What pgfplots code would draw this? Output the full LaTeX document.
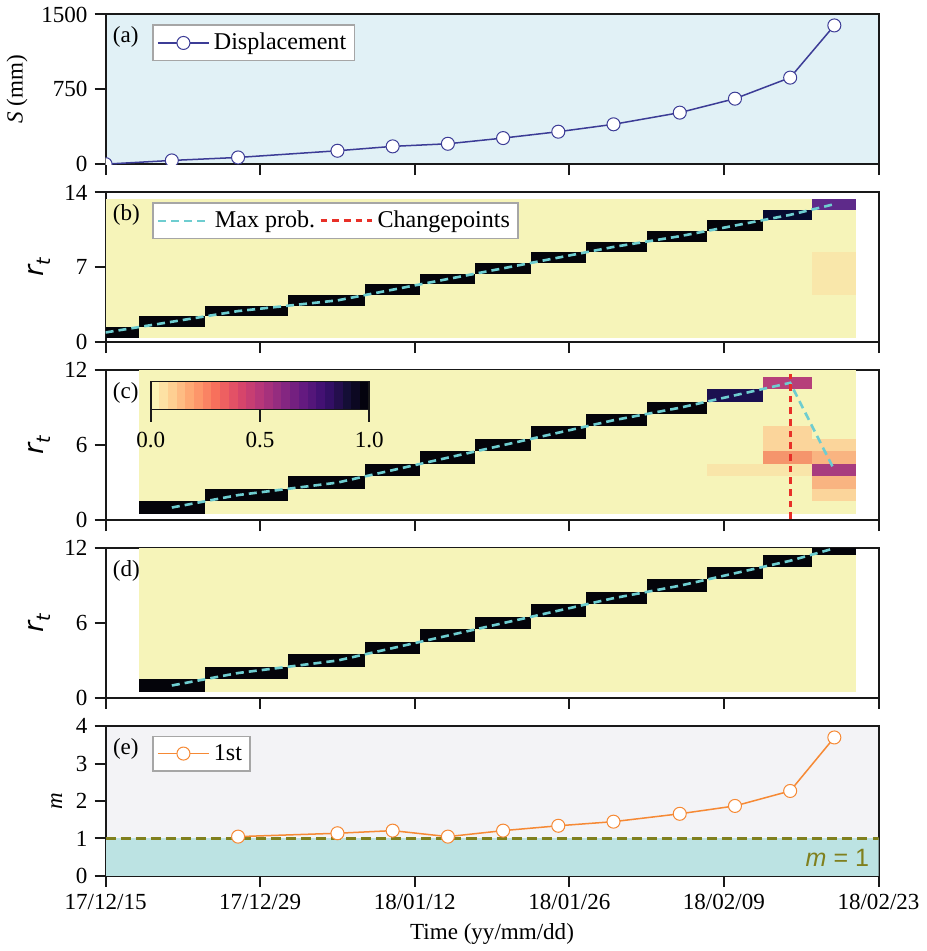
\documentclass[border=0pt]{standalone}
\usepackage{fontspec}
\setmainfont{Liberation Serif}
\setsansfont{Liberation Sans}
\newfontfamily\djv{DejaVu Sans}
\usepackage{pgfplots}
\pgfplotsset{compat=1.18}
\usetikzlibrary{calc}

\definecolor{bgA}{RGB}{225,241,246}
\definecolor{disp}{RGB}{60,60,150}
\definecolor{yel}{RGB}{246,244,185}
\definecolor{blk}{RGB}{4,4,10}
\definecolor{navyb}{RGB}{6,10,48}
\definecolor{purpb}{RGB}{94,42,138}
\definecolor{paleb}{RGB}{249,231,170}
\definecolor{navyc}{RGB}{27,16,80}
\definecolor{magc}{RGB}{182,64,122}
\definecolor{magd}{RGB}{168,60,127}
\definecolor{peach}{RGB}{251,213,155}
\definecolor{salmon}{RGB}{245,149,108}
\definecolor{lorange}{RGB}{249,180,129}
\definecolor{pale}{RGB}{249,229,169}
\definecolor{cyanl}{RGB}{110,205,208}
\definecolor{redl}{RGB}{232,48,40}
\definecolor{bgE}{RGB}{243,243,246}
\definecolor{tealb}{RGB}{188,227,227}
\definecolor{olivel}{RGB}{128,128,30}
\definecolor{orng}{RGB}{246,137,52}
\definecolor{axc}{RGB}{25,25,25}

\newcommand{\fs}{\fontsize{11.5}{13}\selectfont}
\newcommand{\fl}{\fontsize{12}{14}\selectfont}
\newcommand{\rt}{{\djv\fontsize{13.5}{15}\selectfont\itshape r\raisebox{-0.25em}{\fontsize{9.5}{10}\selectfont t}}}

\tikzset{plab/.style={anchor=base west, inner sep=0pt, font=\fs, xshift=3.5pt, yshift=-14pt}}

\pgfplotsset{
  panel/.style={
    width=385.5pt, height=74.65pt, scale only axis,
    xmin=0, xmax=70, xtick={0,14,28,42,56,70}, xticklabels={},
    tick pos=left, tick align=outside, major tick length=5.5pt,
    axis line style={line width=1pt, axc},
    every tick/.style={line width=1pt, axc},
    tick label style={font=\fs},
    label style={font=\fs},
    /pgf/number format/assume math mode=true,
    /pgf/number format/1000 sep={},
    clip marker paths=true,
    legend style={font=\fl, draw=gray!70, line width=0.6pt, anchor=north west,
      inner sep=2pt, row sep=0pt},
    legend cell align=left,
    legend image code/.code={\draw[mark repeat=2,mark phase=2,#1] plot coordinates {(0cm,0cm) (0.45cm,0cm) (0.9cm,0cm)};},
  },
}

\begin{document}
\begin{tikzpicture}
% ---------------- (a)
\begin{axis}[panel, name=a, at={(0,0)},
  ymin=0, ymax=1500, ytick={0,750,1500},
  ylabel={\textit{S} (mm)},
  axis background/.style={fill=bgA},
  legend style={at={(0.0606,0.933)}}]
\addplot[disp, line width=0.75pt, mark=*, mark size=3.25pt,
  mark options={fill=white, draw=disp, line width=0.5pt}]
  coordinates {(0,0) (6,37) (12,67) (21,134) (26,178) (31,204) (36,261)
               (41,325) (46,399) (52,516) (57,656) (62,867) (66,1390)};
\legend{Displacement}
\node[plab] at (rel axis cs:0,1) {(a)};
\end{axis}

% ---------------- (b)
\begin{axis}[panel, name=b, at={(0,-88.75pt)},
  ymin=0, ymax=14, ytick={0,7,14},
  ylabel={\rt},
  legend columns=2,
  legend style={at={(0.0606,0.933)}, /tikz/every even column/.append style={column sep=0pt}}]
\addplot[fill=yel, draw=none, forget plot] coordinates {(0,0.4) (68,0.4) (68,13.4) (0,13.4)} --cycle;
\addplot[fill=blk, draw=none, forget plot] coordinates {(0,0.4) (3,0.4) (3,1.4) (0,1.4)} --cycle;
\addplot[fill=blk, draw=none, forget plot] coordinates {(3,1.4) (9,1.4) (9,2.4) (3,2.4)} --cycle;
\addplot[fill=blk, draw=none, forget plot] coordinates {(9,2.4) (16.5,2.4) (16.5,3.4) (9,3.4)} --cycle;
\addplot[fill=blk, draw=none, forget plot] coordinates {(16.5,3.4) (23.5,3.4) (23.5,4.4) (16.5,4.4)} --cycle;
\addplot[fill=blk, draw=none, forget plot] coordinates {(23.5,4.4) (28.5,4.4) (28.5,5.4) (23.5,5.4)} --cycle;
\addplot[fill=blk, draw=none, forget plot] coordinates {(28.5,5.4) (33.5,5.4) (33.5,6.4) (28.5,6.4)} --cycle;
\addplot[fill=blk, draw=none, forget plot] coordinates {(33.5,6.4) (38.5,6.4) (38.5,7.4) (33.5,7.4)} --cycle;
\addplot[fill=blk, draw=none, forget plot] coordinates {(38.5,7.4) (43.5,7.4) (43.5,8.4) (38.5,8.4)} --cycle;
\addplot[fill=blk, draw=none, forget plot] coordinates {(43.5,8.4) (49,8.4) (49,9.4) (43.5,9.4)} --cycle;
\addplot[fill=blk, draw=none, forget plot] coordinates {(49,9.4) (54.5,9.4) (54.5,10.4) (49,10.4)} --cycle;
\addplot[fill=blk, draw=none, forget plot] coordinates {(54.5,10.4) (59.5,10.4) (59.5,11.4) (54.5,11.4)} --cycle;
\addplot[fill=navyb, draw=none, forget plot] coordinates {(59.5,11.4) (64,11.4) (64,12.4) (59.5,12.4)} --cycle;
\addplot[fill=purpb, draw=none, forget plot] coordinates {(64,12.4) (68,12.4) (68,13.4) (64,13.4)} --cycle;
\addplot[fill=paleb, draw=none, forget plot] coordinates {(64,4.4) (68,4.4) (68,8.4) (64,8.4)} --cycle;
\addplot[cyanl, line width=1.3pt, dash pattern=on 4pt off 2.5pt]
  coordinates {(0,0.9) (6,1.9) (12,2.9) (21,3.9) (26,4.9) (31,5.9) (36,6.9)
               (41,7.9) (46,8.9) (52,9.9) (57,10.9) (62,11.9) (66,12.9)};
\addlegendimage{redl, line width=1.5pt, dash pattern=on 3.3pt off 2.5pt}
\legend{Max prob.,Changepoints}
\node[plab] at (rel axis cs:0,1) {(b)};
\end{axis}

% ---------------- (c)
\begin{axis}[panel, name=c, at={(0,-177.5pt)},
  ymin=0, ymax=12, ytick={0,6,12},
  ylabel={\rt},
  colormap={magmar}{rgb255=(252,253,191) rgb255=(254,207,146) rgb255=(254,159,109)
    rgb255=(247,112,92) rgb255=(222,73,104) rgb255=(183,55,121) rgb255=(140,41,129)
    rgb255=(100,26,128) rgb255=(59,15,112) rgb255=(20,14,54) rgb255=(0,0,4)},
  point meta min=0, point meta max=1,
  colorbar horizontal, colorbar sampled,
  colorbar style={samples=26,
    at={($(parent axis.north west)+(22.5pt,3pt)$)}, anchor=north west,
    scale only axis, width=109pt, height=14pt,
    xtick={0,0.5,1}, xtick pos=bottom, xticklabel pos=lower,
    tick align=outside, major tick length=6pt,
    axis line style={line width=0.9pt, axc},
    every tick/.style={line width=0.9pt, axc},
    xticklabel style={font=\fs, yshift=-2pt, /pgf/number format/.cd, fixed, fixed zerofill, precision=1, assume math mode=true},
  }]
\addplot[fill=yel, draw=none, forget plot] coordinates {(3,0.5) (68,0.5) (68,12.5) (3,12.5)} --cycle;
\addplot[fill=blk, draw=none, forget plot] coordinates {(3,0.5) (9,0.5) (9,1.5) (3,1.5)} --cycle;
\addplot[fill=blk, draw=none, forget plot] coordinates {(9,1.5) (16.5,1.5) (16.5,2.5) (9,2.5)} --cycle;
\addplot[fill=blk, draw=none, forget plot] coordinates {(16.5,2.5) (23.5,2.5) (23.5,3.5) (16.5,3.5)} --cycle;
\addplot[fill=blk, draw=none, forget plot] coordinates {(23.5,3.5) (28.5,3.5) (28.5,4.5) (23.5,4.5)} --cycle;
\addplot[fill=blk, draw=none, forget plot] coordinates {(28.5,4.5) (33.5,4.5) (33.5,5.5) (28.5,5.5)} --cycle;
\addplot[fill=blk, draw=none, forget plot] coordinates {(33.5,5.5) (38.5,5.5) (38.5,6.5) (33.5,6.5)} --cycle;
\addplot[fill=blk, draw=none, forget plot] coordinates {(38.5,6.5) (43.5,6.5) (43.5,7.5) (38.5,7.5)} --cycle;
\addplot[fill=blk, draw=none, forget plot] coordinates {(43.5,7.5) (49,7.5) (49,8.5) (43.5,8.5)} --cycle;
\addplot[fill=blk, draw=none, forget plot] coordinates {(49,8.5) (54.5,8.5) (54.5,9.5) (49,9.5)} --cycle;
\addplot[fill=navyc, draw=none, forget plot] coordinates {(54.5,9.5) (59.5,9.5) (59.5,10.5) (54.5,10.5)} --cycle;
\addplot[fill=magc, draw=none, forget plot] coordinates {(59.5,10.5) (64,10.5) (64,11.5) (59.5,11.5)} --cycle;
\addplot[fill=pale, draw=none, forget plot] coordinates {(54.5,3.5) (64,3.5) (64,4.5) (54.5,4.5)} --cycle;
\addplot[fill=salmon, draw=none, forget plot] coordinates {(59.5,4.5) (64,4.5) (64,5.5) (59.5,5.5)} --cycle;
\addplot[fill=peach, draw=none, forget plot] coordinates {(59.5,5.5) (64,5.5) (64,7.5) (59.5,7.5)} --cycle;
\addplot[fill=peach, draw=none, forget plot] coordinates {(64,1.5) (68,1.5) (68,2.5) (64,2.5)} --cycle;
\addplot[fill=lorange, draw=none, forget plot] coordinates {(64,2.5) (68,2.5) (68,3.5) (64,3.5)} --cycle;
\addplot[fill=magd, draw=none, forget plot] coordinates {(64,3.5) (68,3.5) (68,4.5) (64,4.5)} --cycle;
\addplot[fill=lorange, draw=none, forget plot] coordinates {(64,4.5) (68,4.5) (68,5.5) (64,5.5)} --cycle;
\addplot[fill=peach, draw=none, forget plot] coordinates {(64,5.5) (68,5.5) (68,6.5) (64,6.5)} --cycle;
\addplot[cyanl, line width=1.3pt, dash pattern=on 4pt off 2.5pt]
  coordinates {(6,1) (12,2) (21,3) (26,4) (31,5) (36,6) (41,7)
               (46,8) (52,9) (57,10) (62,11) (66,4)};
\addplot[redl, line width=1.5pt, dash pattern=on 3.3pt off 2.5pt]
  coordinates {(62,0.1) (62,11.7)};
\node[plab] at (rel axis cs:0,1) {(c)};
\end{axis}

% ---------------- (d)
\begin{axis}[panel, name=d, at={(0,-266.25pt)},
  ymin=0, ymax=12, ytick={0,6,12},
  ylabel={\rt}]
\addplot[fill=yel, draw=none, forget plot] coordinates {(3,0.5) (68,0.5) (68,12.5) (3,12.5)} --cycle;
\addplot[fill=blk, draw=none, forget plot] coordinates {(3,0.5) (9,0.5) (9,1.5) (3,1.5)} --cycle;
\addplot[fill=blk, draw=none, forget plot] coordinates {(9,1.5) (16.5,1.5) (16.5,2.5) (9,2.5)} --cycle;
\addplot[fill=blk, draw=none, forget plot] coordinates {(16.5,2.5) (23.5,2.5) (23.5,3.5) (16.5,3.5)} --cycle;
\addplot[fill=blk, draw=none, forget plot] coordinates {(23.5,3.5) (28.5,3.5) (28.5,4.5) (23.5,4.5)} --cycle;
\addplot[fill=blk, draw=none, forget plot] coordinates {(28.5,4.5) (33.5,4.5) (33.5,5.5) (28.5,5.5)} --cycle;
\addplot[fill=blk, draw=none, forget plot] coordinates {(33.5,5.5) (38.5,5.5) (38.5,6.5) (33.5,6.5)} --cycle;
\addplot[fill=blk, draw=none, forget plot] coordinates {(38.5,6.5) (43.5,6.5) (43.5,7.5) (38.5,7.5)} --cycle;
\addplot[fill=blk, draw=none, forget plot] coordinates {(43.5,7.5) (49,7.5) (49,8.5) (43.5,8.5)} --cycle;
\addplot[fill=blk, draw=none, forget plot] coordinates {(49,8.5) (54.5,8.5) (54.5,9.5) (49,9.5)} --cycle;
\addplot[fill=blk, draw=none, forget plot] coordinates {(54.5,9.5) (59.5,9.5) (59.5,10.5) (54.5,10.5)} --cycle;
\addplot[fill=blk, draw=none, forget plot] coordinates {(59.5,10.5) (64,10.5) (64,11.5) (59.5,11.5)} --cycle;
\addplot[fill=blk, draw=none, forget plot] coordinates {(64,11.5) (68,11.5) (68,12.5) (64,12.5)} --cycle;
\addplot[cyanl, line width=1.3pt, dash pattern=on 4pt off 2.5pt]
  coordinates {(6,1) (12,2) (21,3) (26,4) (31,5) (36,6) (41,7)
               (46,8) (52,9) (57,10) (62,11) (66,12)};
\node[plab] at (rel axis cs:0,1) {(d)};
\end{axis}

% ---------------- (e)
\begin{axis}[panel, name=e, at={(0,-355pt)},
  ymin=0, ymax=4, ytick={0,1,2,3,4},
  ylabel={\textit{m}},
  xticklabels={17/12/15,17/12/29,18/01/12,18/01/26,18/02/09,18/02/23},
  xlabel={Time (yy/mm/dd)},
  axis background/.style={fill=bgE},
  legend style={at={(0.0606,0.938)}}]
\addplot[fill=tealb, draw=none, forget plot] coordinates {(0,0) (70,0) (70,1) (0,1)} --cycle;
\addplot[olivel, line width=1.5pt, dash pattern=on 5pt off 2.5pt, forget plot]
  coordinates {(0,1) (70,1)};
\addplot[orng, line width=0.75pt, mark=*, mark size=3.25pt,
  mark options={fill=white, draw=orng, line width=0.5pt}]
  coordinates {(12,1.05) (21,1.14) (26,1.21) (31,1.05) (36,1.21) (41,1.34)
               (46,1.45) (52,1.66) (57,1.87) (62,2.27) (66,3.70)};
\legend{1st}
\node[plab] at (rel axis cs:0,1) {(e)};
\node[anchor=base east, inner sep=0pt, text=olivel, font=\sffamily\fontsize{12.5}{14}\selectfont,
  xshift=-4.5pt, yshift=4.7pt] at (rel axis cs:1,0) {\textit{m} = 1};
\end{axis}
\end{tikzpicture}
\end{document}
